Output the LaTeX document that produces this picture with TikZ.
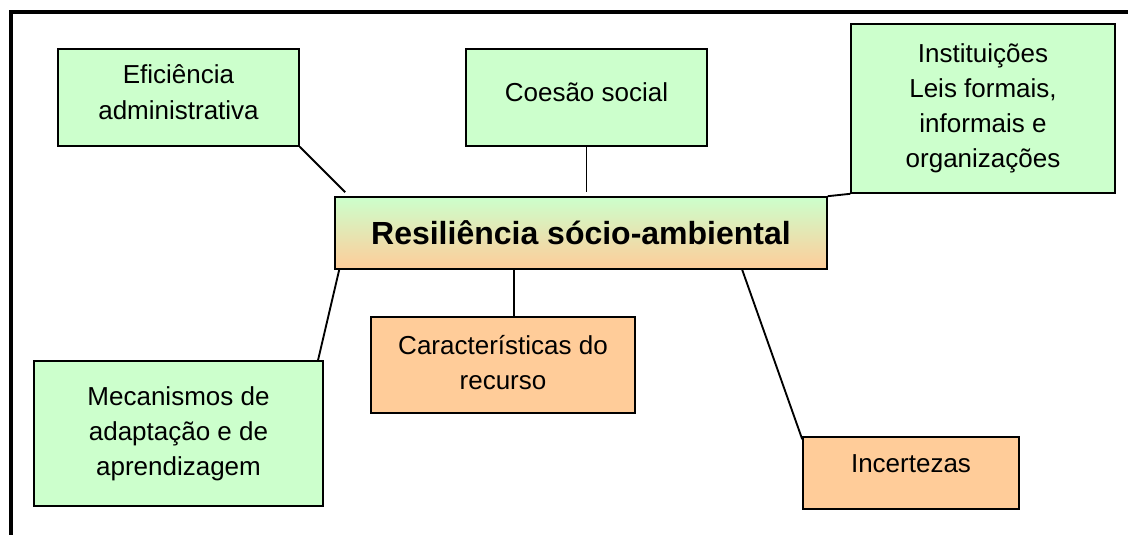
\documentclass[tikz,border=0pt]{standalone}
\usepackage{fontspec}
\setmainfont{Liberation Sans}
\usetikzlibrary{calc}
\definecolor{lgreen}{HTML}{CCFFCC}
\definecolor{lorange}{HTML}{FFCC99}
\tikzset{
  box/.style={draw=black, line width=1.2pt, inner sep=0pt},
  greenbox/.style={box, fill=lgreen},
  orangebox/.style={box, fill=lorange},
  txt/.style={align=center, inner sep=0pt, font=\fontsize{19.5}{26.3}\selectfont},
  link/.style={line width=1.4pt}
}
\begin{document}
\begin{tikzpicture}[x=0.75pt,y=-0.75pt]
\useasboundingbox (0,0) rectangle (1128,535);
\draw[line width=3.2pt] (11,535) -- (11,12) -- (1128,12);

\node[box, top color=lgreen, bottom color=lorange, minimum width=369pt, minimum height=54pt,
  font=\fontsize{24}{28}\selectfont\bfseries] (central) at (581,233) {Resiliência sócio-ambiental};

\node[greenbox, minimum width=180.75pt, minimum height=72.75pt,
  label={[txt, yshift=4pt]center:{Eficiência\\administrativa}}] (efic) at (178.5,97.5) {};
\node[greenbox, minimum width=180.75pt, minimum height=72.75pt,
  label={[txt, yshift=4pt]center:{Coesão social}}] (coesao) at (586.5,97.5) {};
\node[greenbox, minimum width=198pt, minimum height=126.75pt,
  label={[txt]center:{Instituições\\Leis formais,\\informais e\\organizações}}] (inst) at (983,108.5) {};
\node[greenbox, minimum width=216.75pt, minimum height=108.75pt,
  label={[txt]center:{Mecanismos de\\adaptação e de\\aprendizagem}}] (mec) at (178.5,433.5) {};
\node[orangebox, minimum width=198pt, minimum height=72pt,
  label={[txt, yshift=2pt]center:{Características do\\recurso}}] (carac) at (503,365) {};
\node[orangebox, minimum width=162pt, minimum height=54pt,
  label={[txt, yshift=7pt]center:{Incertezas}}] (incert) at (911,473) {};

\draw[link] (efic.south east) -- ($(central.north west)+(11,-4)$);
\draw[link] (coesao.south) -- ($(coesao.south |- central.north)+(0,-4)$);
\draw[link] (central.north east) -- (inst.south west);
\draw[link] ($(central.south west)+(5,0)$) -- ($(mec.north east)+(-6,1)$);
\draw[link] ($(central.south west)+(180,0)$) coordinate (k) -- (k |- carac.north);
\draw[link] ($(central.south west)+(408,0)$) -- ($(incert.north west)+(0,3)$);
\end{tikzpicture}
\end{document}
